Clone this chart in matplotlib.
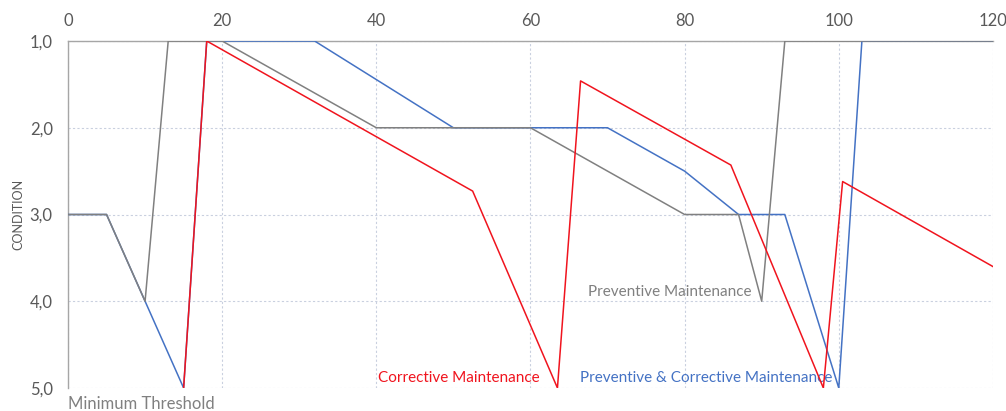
import matplotlib.pyplot as plt
from matplotlib.ticker import FuncFormatter

plt.rcParams['font.family'] = ['Lato', 'DejaVu Sans']

# Condition curves (1 = best, 5 = minimum threshold)
prev_x = [0, 5, 10, 13, 20, 40, 60, 80, 87, 90, 93, 120]
prev_y = [3, 3, 4, 1, 1, 2, 2, 3, 3, 4, 1, 1]

prevcorr_x = [0, 5, 10, 15, 18, 32, 50, 70, 80, 87, 93, 100, 103, 120]
prevcorr_y = [3, 3, 4, 5, 1, 1, 2, 2, 2.5, 3, 3, 5, 1, 1]

corr_x = [15, 18, 52.5, 63.5, 66.5, 86, 98, 100.5, 120]
corr_y = [5, 1, 2.73, 5, 1.46, 2.43, 5, 2.62, 3.6]

x_ticks = [0, 20, 40, 60, 80, 100, 120]
y_ticks = [1, 2, 3, 4, 5]

RED = '#F0141E'
BLUE = '#4472C4'
GREY = '#808080'

fig = plt.figure(figsize=(10.06, 4.11), dpi=100)
ax = fig.add_axes([0.0676, 0.056, 0.9194, 0.8442])

ax.plot(prevcorr_x, prevcorr_y, color=BLUE, lw=1.1, zorder=3)
ax.plot(prev_x, prev_y, color=GREY, lw=1.1, zorder=4)
ax.plot(corr_x, corr_y, color=RED, lw=1.1, zorder=5)

ax.set_xlim(0, 120)
ax.set_ylim(5, 1)
ax.set_xticks(x_ticks)
ax.set_yticks(y_ticks)
ax.yaxis.set_major_formatter(FuncFormatter(lambda v, p: f"{v:.1f}".replace('.', ',')))
ax.xaxis.tick_top()
ax.tick_params(axis='both', length=0, colors='#595959', labelsize=12)
ax.tick_params(axis='x', pad=9)
ax.tick_params(axis='y', pad=11)

ax.grid(True, color='#c9d0df', linestyle=(0, (2, 2)), linewidth=0.8)
ax.set_axisbelow(True)

for side in ['right', 'bottom']:
    ax.spines[side].set_visible(False)
for side in ['left', 'top']:
    ax.spines[side].set_color('#a6a6a6')
    ax.spines[side].set_linewidth(1.0)

ax.set_ylabel('CONDITION', fontsize=9, color='#595959')
ax.yaxis.set_label_coords(-0.047, 0.5)

# Curve labels
ax.text(50.7, 4.885, 'Corrective Maintenance', color=RED, fontsize=11,
        ha='center', va='center')
ax.text(82.8, 4.885, 'Preventive & Corrective Maintenance', color=BLUE, fontsize=11,
        ha='center', va='center')
ax.text(78.1, 3.89, 'Preventive Maintenance', color=GREY, fontsize=11,
        ha='center', va='center')
ax.text(0, 5.18, 'Minimum Threshold', color=GREY, fontsize=12,
        ha='left', va='center', clip_on=False)

plt.savefig('out.png', dpi=100)
plt.close()
